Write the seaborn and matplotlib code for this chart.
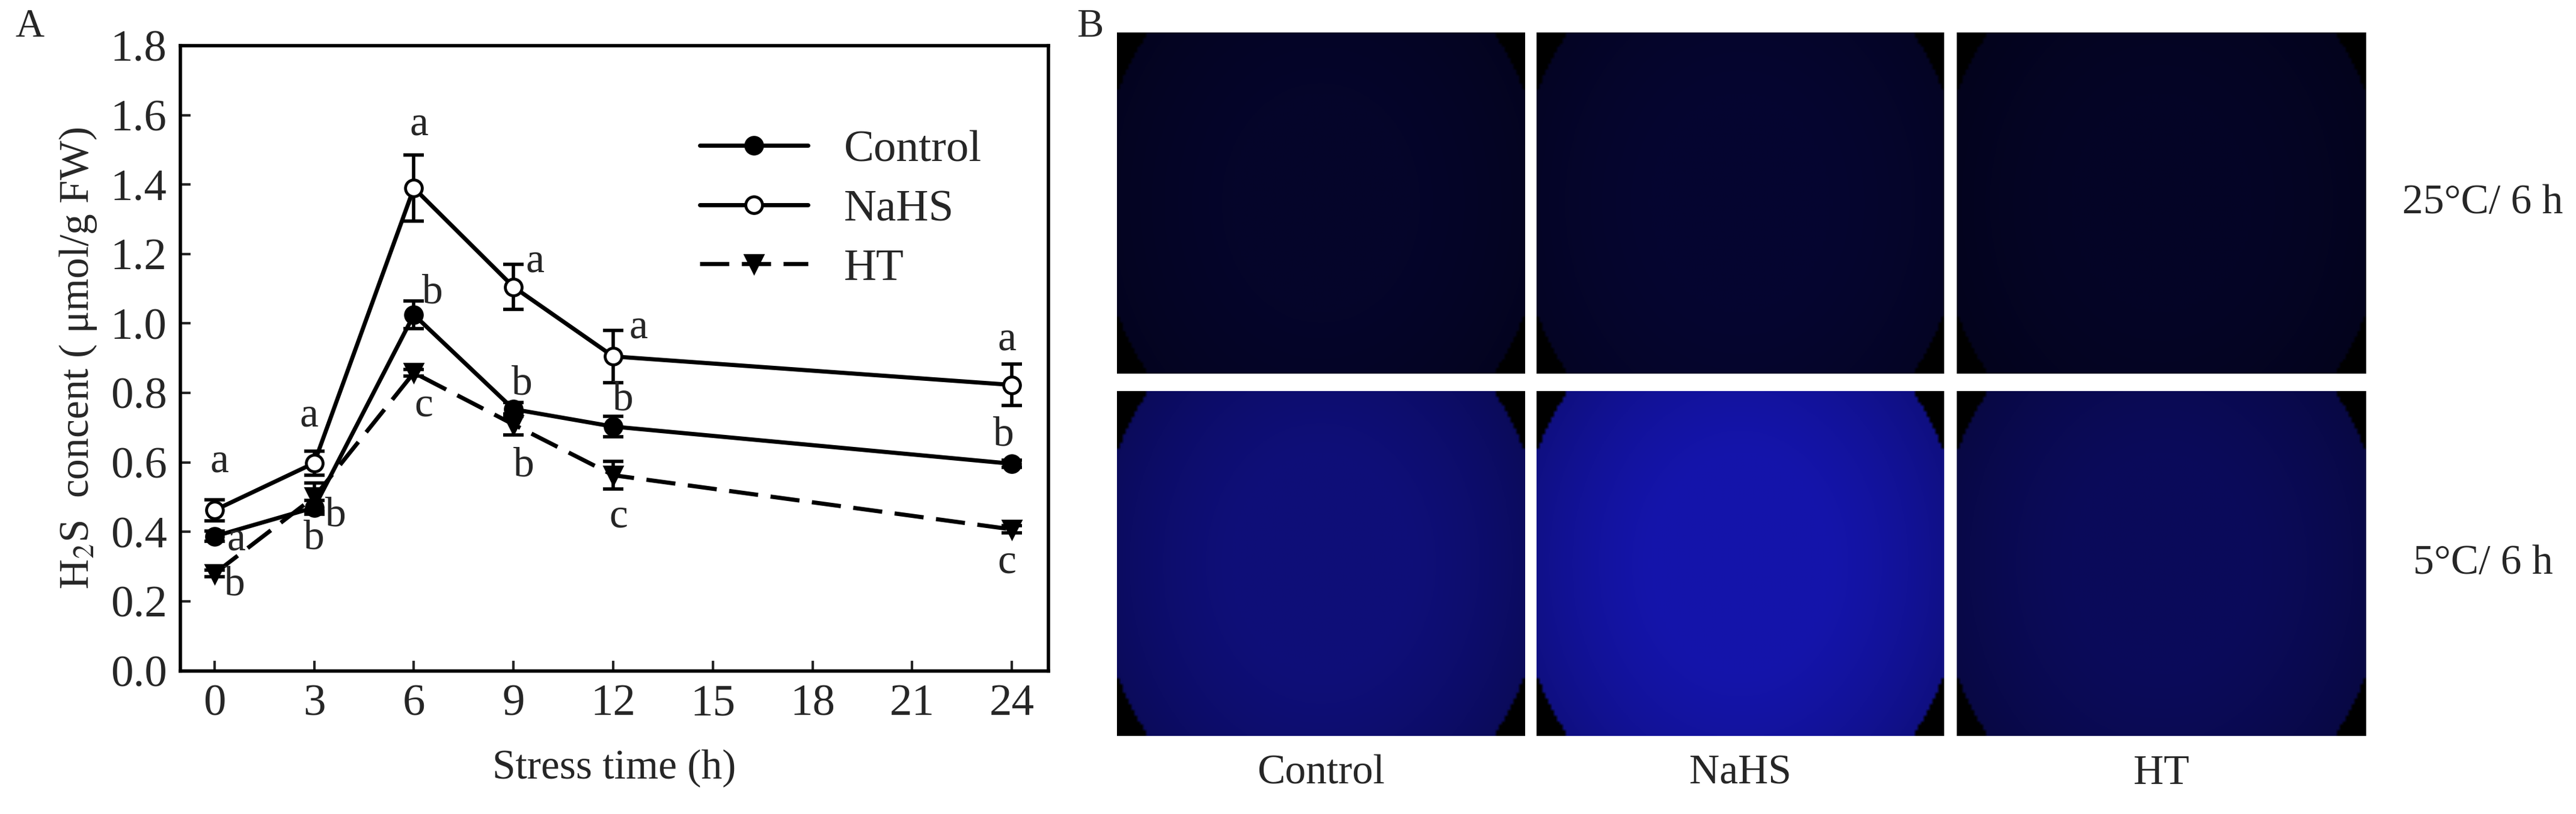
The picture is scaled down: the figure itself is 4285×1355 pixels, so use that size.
import numpy as np
import matplotlib
matplotlib.use("Agg")
import matplotlib.pyplot as plt
import seaborn as sns
import pandas as pd

sns.set_theme(style="white")
plt.rcParams['font.family'] = ['Liberation Serif', 'DejaVu Serif']
plt.rcParams['mathtext.fontset'] = 'stix'

times = [0, 3, 6, 9, 12, 24]
control = [0.387, 0.47, 1.025, 0.753, 0.703, 0.596]
control_err = [0.015, 0.02, 0.04, 0.02, 0.03, 0.01]
nahs = [0.462, 0.598, 1.39, 1.105, 0.905, 0.823]
nahs_err = [0.03, 0.035, 0.095, 0.065, 0.075, 0.06]
ht = [0.28, 0.50, 0.858, 0.709, 0.563, 0.407]
ht_err = [0.01, 0.04, 0.01, 0.03, 0.04, 0.01]
letters_control = ['a', 'b', 'b', 'b', 'b', 'b']
letters_nahs = ['a', 'a', 'a', 'a', 'a', 'a']
letters_ht = ['b', 'b', 'c', 'b', 'c', 'c']
xticks = [0, 3, 6, 9, 12, 15, 18, 21, 24]

# panel B: mean fluorescence intensity (blue channel, 0-255)
conditions = ['Control', 'NaHS', 'HT']
row_labels = ['25\u00b0C/ 6 h', '5\u00b0C/ 6 h']
intensity_25 = [42, 48, 38]
intensity_5 = [120, 170, 90]

fig = plt.figure(figsize=(42.85, 13.55), dpi=100)
ax = fig.add_axes([0.070, 0.176, 0.337, 0.768])

df = pd.DataFrame({'t': times * 3, 'v': control + nahs + ht,
                   'g': ['Control'] * 6 + ['NaHS'] * 6 + ['HT'] * 6})
styles = {'Control': dict(marker='o', mfc='black', ls='-'),
          'NaHS': dict(marker='o', mfc='white', ls='-'),
          'HT': dict(marker='v', mfc='black', ls=(0, (7, 3)))}
errs = {'Control': control_err, 'NaHS': nahs_err, 'HT': ht_err}
for g in ['Control', 'NaHS', 'HT']:
    d = df[df.g == g]
    st = styles[g]
    sns.lineplot(data=d, x='t', y='v', ax=ax, color='black', lw=5,
                 linestyle=st['ls'], marker=st['marker'], markersize=20,
                 markerfacecolor=st['mfc'], markeredgecolor='black',
                 markeredgewidth=3.5, label=g, zorder=3)
    ax.errorbar(d.t, d.v, yerr=errs[g], fmt='none', ecolor='black',
                elinewidth=4, capsize=12, capthick=4, zorder=2)

fs = 50
off_c = [(26, -4), (26, -10), (22, 26), (10, 30), (12, 32), (-10, 34)]
off_n = [(6, 58), (-6, 56), (6, 76), (26, 30), (30, 34), (-6, 54)]
off_h = [(24, -14), (0, -50), (12, -40), (12, -50), (6, -50), (-6, -40)]
for lst, vals, offs in [(letters_control, control, off_c),
                        (letters_nahs, nahs, off_n),
                        (letters_ht, ht, off_h)]:
    for t, v, l, o in zip(times, vals, lst, offs):
        ax.annotate(l, (t, v), xytext=o, textcoords='offset points',
                    ha='center', va='center', fontsize=fs)

ax.set_xlim(-1.03, 25.1)
ax.set_ylim(0, 1.8)
ax.set_xticks(xticks)
ax.set_yticks(np.arange(0, 1.81, 0.2))
ax.set_yticklabels([f'{v:.1f}' for v in np.arange(0, 1.81, 0.2)])
ax.tick_params(axis='both', labelsize=54, direction='in', length=12,
               width=3, bottom=True, left=True, pad=16)
ax.set_xlabel('Stress time (h)', fontsize=50, labelpad=30)
ax.set_ylabel('H$_2$S  concent ( \u03bcmol/g FW)', fontsize=50, labelpad=14)
for s in ax.spines.values():
    s.set_linewidth(4)
    s.set_color('black')
leg = ax.legend(loc='upper right', bbox_to_anchor=(0.97, 0.93), frameon=False,
                fontsize=54, handlelength=2.4, labelspacing=0.4)
fig.text(0.006, 0.955, 'A', fontsize=48)
fig.text(0.418, 0.955, 'B', fontsize=48)

# panel B images
col_x = [(1858, 2537), (2556, 3234), (3255, 3935)]
row_y = [(54, 622), (651, 1225)]
W, H = 4285, 1355
for r, ints in enumerate([intensity_25, intensity_5]):
    for c, val in enumerate(ints):
        x0, x1 = col_x[c]
        y0, y1 = row_y[r]
        iax = fig.add_axes([x0 / W, 1 - y1 / H, (x1 - x0) / W, (y1 - y0) / H])
        ny, nx = 120, 140
        yy, xx = np.mgrid[-1:1:ny * 1j, -1:1:nx * 1j]
        rr = np.sqrt((xx * 0.9) ** 2 + (yy * 0.62) ** 2)
        fall = np.clip(1.05 - 0.3 * rr ** 2, 0, 1)
        mask = rr < 0.99
        img = np.zeros((ny, nx, 3))
        img[..., 2] = val / 255 * fall * mask
        img[..., 0] = val / 255 * 0.12 * fall * mask
        img[..., 1] = val / 255 * 0.12 * fall * mask
        iax.imshow(img, aspect='auto', interpolation='bilinear')
        iax.set_axis_off()
for c, name in enumerate(conditions):
    x0, x1 = col_x[c]
    fig.text((x0 + x1) / 2 / W, 1 - 1288 / H, name, fontsize=50,
             ha='center', va='center')
for r, lab in enumerate(row_labels):
    y0, y1 = row_y[r]
    fig.text(4130 / W, 1 - (y0 + y1) / 2 / H, lab, fontsize=50,
             ha='center', va='center')

fig.savefig('out.png', dpi=100, facecolor='white')
